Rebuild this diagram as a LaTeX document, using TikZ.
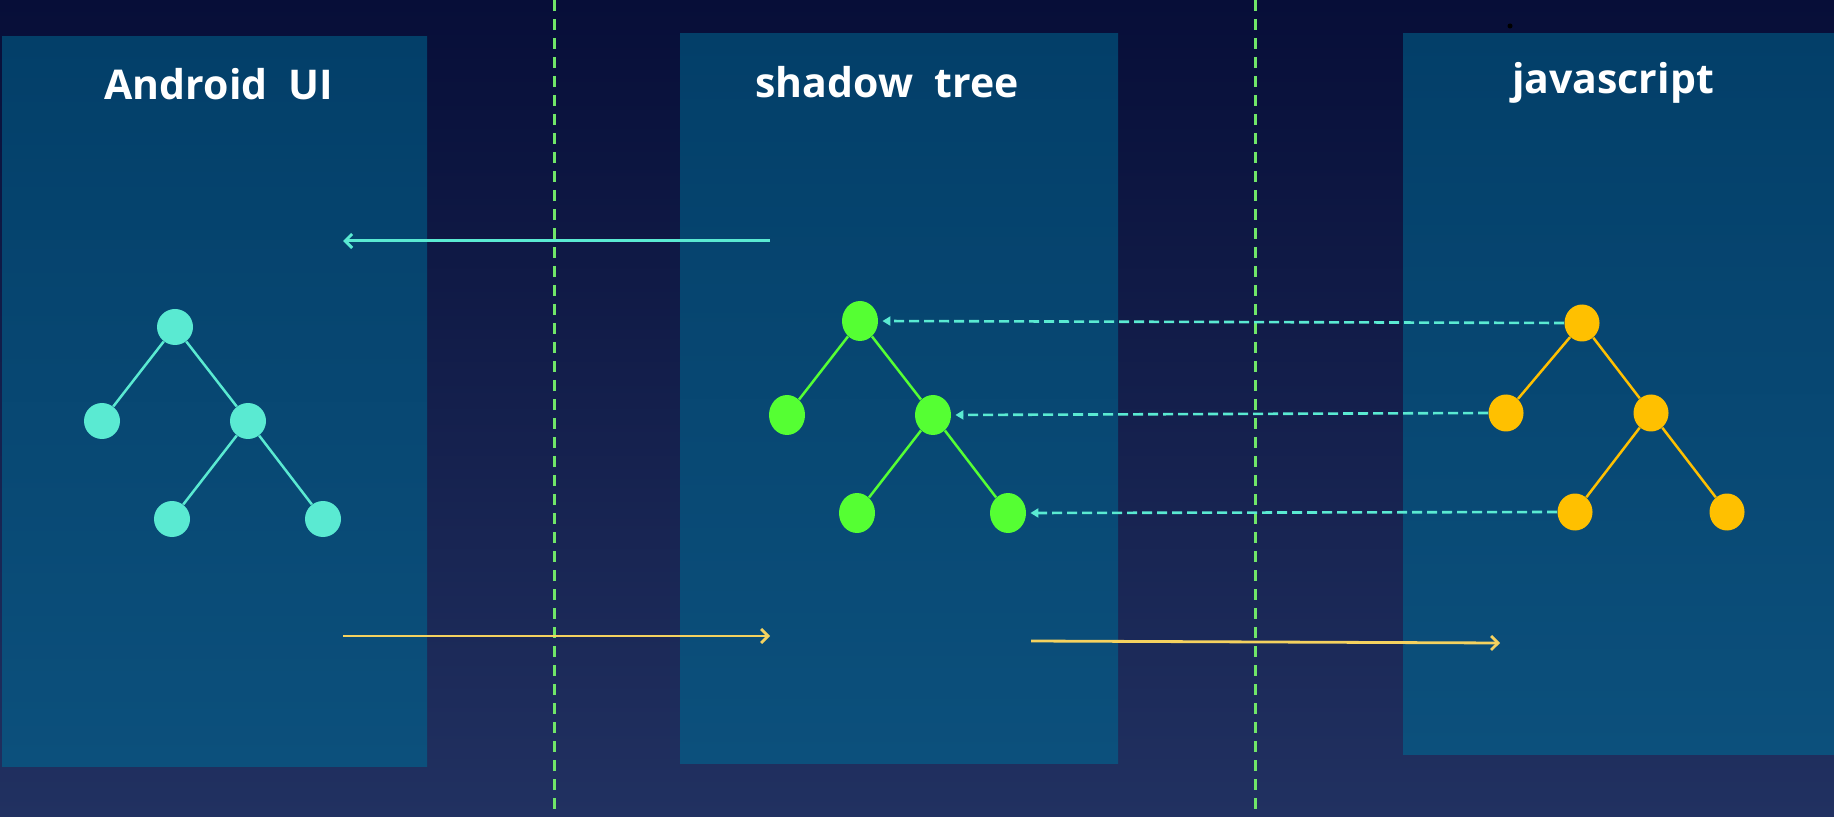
\documentclass[tikz,border=0pt]{standalone}
\usepackage{fontspec}
\setmainfont{Open Sans}
\usepackage{tikz}
\usetikzlibrary{arrows.meta, positioning, shapes.geometric}
\definecolor{NightTop}{RGB}{7,14,56}
\definecolor{NightBottom}{RGB}{33,49,97}
\definecolor{PanelTop}{RGB}{3,63,105}
\definecolor{PanelBottom}{RGB}{12,80,124}
\definecolor{Turquoise}{RGB}{90,234,210}
\definecolor{LimeGreen}{RGB}{85,255,51}
\definecolor{Amber}{RGB}{255,192,0}
\definecolor{SoftYellow}{RGB}{245,210,95}
\definecolor{DividerGreen}{RGB}{112,230,104}

\begin{document}
\begin{tikzpicture}[
  x=0.5pt, y=-0.5pt, on grid,
  panel/.style={rectangle, inner sep=0pt, draw=none,
                top color=PanelTop, bottom color=PanelBottom},
  title/.style={font=\fontsize{20.5}{24}\selectfont\bfseries,
                text=white, anchor=base, inner sep=0pt},
  anode/.style={circle, fill=Turquoise, inner sep=0pt, minimum size=18pt},
  snode/.style={ellipse, fill=LimeGreen, inner sep=0pt,
                minimum width=18pt, minimum height=20pt},
  jnode/.style={ellipse, fill=Amber, inner sep=0pt,
                minimum width=17.5pt, minimum height=18.5pt},
  aedge/.style={Turquoise, line width=1.25pt},
  sedge/.style={LimeGreen, line width=1.25pt},
  jedge/.style={Amber, line width=1.25pt},
  divider/.style={DividerGreen, line width=1.5pt, dash pattern=on 5.5pt off 4pt},
  backflow/.style={-{Straight Barb[length=3.5pt, width=7pt]}, Turquoise, line width=1.5pt},
  fwdflow/.style={-{Straight Barb[length=3.5pt, width=7pt]}, SoftYellow, line width=1.4pt},
  sync/.style={-{Triangle[length=4pt, width=4.5pt]}, Turquoise, line width=1.3pt,
               dash pattern=on 5pt off 2.5pt, shorten >=2pt},
]

\useasboundingbox (0,0) rectangle (1834,817);
\fill[top color=NightTop, bottom color=NightBottom] (0,0) rectangle (1834,817);

\node[panel, minimum width=212.5pt, minimum height=364.5pt] (android) at (214.5,401.5) {};
\node[panel, minimum width=219pt, minimum height=364.5pt] (shadow) at (899,398.5) {};
\node[panel, minimum width=215.5pt, minimum height=360pt] (js) at (1618.5,394) {};

\node[title] (atitle) at (219,100) {Android\ \ UI};
\node[title] (stitle) at (887,98) {shadow\ \ tree};
\node[title] (jtitle) at (1613,94) {javascript};
\node[circle, fill=black, inner sep=0pt, minimum size=2.5pt] (speck) at (1510,26) {};

\draw[divider] (554,0) -- (554,817);
\draw[divider] (1255,0) -- (1255,817);

\node[anode] (aroot) at (175,327) {};
\node[anode, below left=47pt and 36.5pt of aroot] (aleft) {};
\node[anode, below right=47pt and 36.5pt of aroot] (amid) {};
\node[anode, below left=49pt and 38pt of amid] (alow) {};
\node[anode, below right=49pt and 37.5pt of amid] (aright) {};

\node[snode] (sroot) at (860,321) {};
\node[snode, below left=47pt and 36.5pt of sroot] (sleft) {};
\node[snode, below right=47pt and 36.5pt of sroot] (smid) {};
\node[snode, below left=49pt and 38pt of smid] (slow) {};
\node[snode, below right=49pt and 37.5pt of smid] (sright) {};

\node[jnode] (jroot) at (1582,323) {};
\node[jnode, below left=45pt and 38pt of jroot] (jleft) {};
\node[jnode, below right=45pt and 34.5pt of jroot] (jmid) {};
\node[jnode, below left=49.5pt and 38pt of jmid] (jlow) {};
\node[jnode, below right=49.5pt and 38pt of jmid] (jright) {};

\draw[aedge] (aroot) -- (aleft);
\draw[aedge] (aroot) -- (amid);
\draw[aedge] (amid) -- (alow);
\draw[aedge] (amid) -- (aright);
\draw[sedge] (sroot) -- (sleft);
\draw[sedge] (sroot) -- (smid);
\draw[sedge] (smid) -- (slow);
\draw[sedge] (smid) -- (sright);
\draw[jedge] (jroot) -- (jleft);
\draw[jedge] (jroot) -- (jmid);
\draw[jedge] (jmid) -- (jlow);
\draw[jedge] (jmid) -- (jright);

\coordinate (backfrom) at (770,241);
\coordinate (backto) at (343,241);
\coordinate (upfrom) at (343,636);
\coordinate (upto) at (770,636);
\coordinate (jsfrom) at (1031,641);
\coordinate (jsto) at (1500,643);

\draw[backflow] (backfrom) -- (backto);
\draw[fwdflow] (upfrom) -- (upto);
\draw[fwdflow] (jsfrom) -- (jsto);

\draw[sync] (jroot.west) -- (sroot.east);
\draw[sync] (jleft.west) -- (smid.east);
\draw[sync] (jlow.west) -- (sright.east);

\end{tikzpicture}
\end{document}
